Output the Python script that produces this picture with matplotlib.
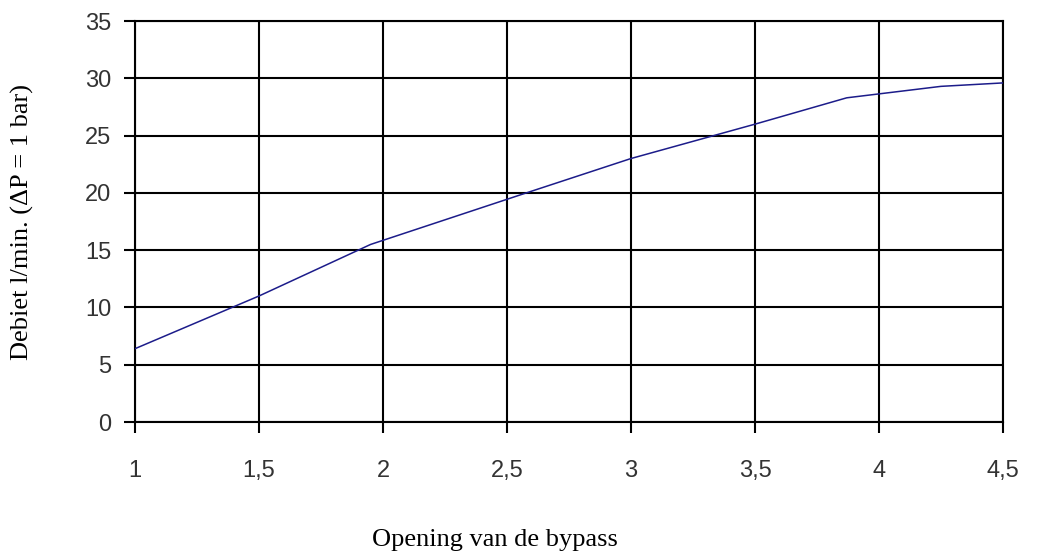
import matplotlib
matplotlib.use("Agg")
import matplotlib.pyplot as plt

# opening vs flow
opening = [1, 1.5, 1.95, 2.55, 3.0, 3.5, 3.87, 4.25, 4.5]
flow = [6.4, 11.0, 15.5, 19.8, 23.0, 26.0, 28.3, 29.3, 29.6]

x_ticks = [1, 1.5, 2, 2.5, 3, 3.5, 4, 4.5]
x_labels = ["1", "1,5", "2", "2,5", "3", "3,5", "4", "4,5"]
y_ticks = [0, 5, 10, 15, 20, 25, 30, 35]

fig = plt.figure(figsize=(10.44, 5.6), dpi=100)
ax = fig.add_axes([0.1293, 0.2464, 0.8314, 0.716])

ax.plot(opening, flow, color="#1c1c8a", lw=1.1, zorder=3)

ax.set_xlim(1, 4.5)
ax.set_ylim(0, 35)
ax.set_xticks(x_ticks)
ax.set_xticklabels(x_labels)
ax.set_yticks(y_ticks)
ax.grid(True, color="black", lw=1.5)
for s in ax.spines.values():
    s.set_color("black")
    s.set_linewidth(1.5)
ax.tick_params(direction="out", length=8, width=1.5,
               labelsize=17, labelcolor="#333333")
ax.tick_params(axis="x", pad=19)
ax.tick_params(axis="y", pad=9)
for lab in ax.get_xticklabels() + ax.get_yticklabels():
    lab.set_family("Liberation Sans")

fig.text(495 / 1044, 1 - 540 / 560, "Opening van de bypass",
         family="Liberation Serif", fontsize=19, ha="center", va="center")
fig.text(22 / 1044, 1 - 222 / 560, "Debiet l/min. (\u0394P = 1 bar)",
         family="Liberation Serif", fontsize=19, ha="center", va="center",
         rotation=90)

plt.savefig("out.png", dpi=100)
